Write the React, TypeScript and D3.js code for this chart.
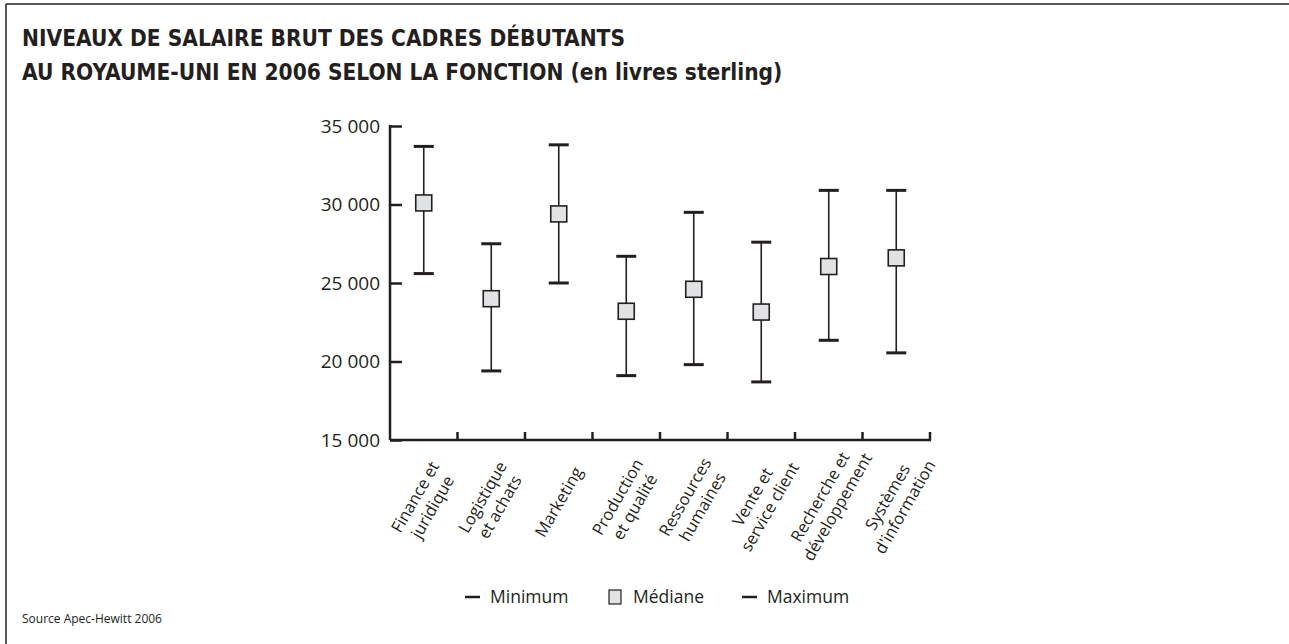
import React, { useEffect, useRef } from "react";
import * as d3 from "d3";

// data
const categories = [
  "Finance et|juridique",
  "Logistique|et achats",
  "Marketing",
  "Production|et qualité",
  "Ressources|humaines",
  "Vente et|service client",
  "Recherche et|développement",
  "Systèmes|d'information",
];
const minimum = [25600, 19400, 25000, 19100, 19800, 18700, 21350, 20550];
const mediane = [30100, 24000, 29400, 23200, 24600, 23150, 26050, 26600];
const maximum = [33700, 27500, 33800, 26700, 29500, 27600, 30900, 30900];
const yTicks = [15000, 20000, 25000, 30000, 35000];
const titleLines = [
  "NIVEAUX DE SALAIRE BRUT DES CADRES DÉBUTANTS",
  "AU ROYAUME-UNI EN 2006 SELON LA FONCTION (en livres sterling)",
];

const FONT = "'Open Sans', 'DejaVu Sans', sans-serif";
const INK = "#231f20";

export default function App() {
  const ref = useRef<SVGSVGElement>(null);

  useEffect(() => {
    const svg = d3.select(ref.current);
    svg.selectAll("*").remove();

    const left = 390, right = 930, top = 126, bottom = 440;

    // frame (top + left rules only)
    svg.append("line").attr("x1", 6).attr("x2", 1289).attr("y1", 4).attr("y2", 4)
      .attr("stroke", INK).attr("stroke-width", 1.5);
    svg.append("line").attr("x1", 6).attr("x2", 6).attr("y1", 4).attr("y2", 644)
      .attr("stroke", INK).attr("stroke-width", 1.5);

    // title
    svg.append("g").selectAll("text").data(titleLines).join("text")
      .attr("x", 22)
      .attr("y", (d, i) => 46 + i * 34)
      .attr("font-family", "'DejaVu Sans Condensed', 'DejaVu Sans', sans-serif")
      .attr("font-weight", "bold")
      .attr("font-size", 22.5)
      .attr("fill", INK)
      .text(d => d);

    const x = d3.scaleBand().domain(categories).range([left, right]);
    const y = d3.scaleLinear().domain([15000, 35000]).range([bottom, top]);

    const fmt = d3.formatLocale({ thousands: " ", grouping: [3], decimal: ",", currency: ["", ""] }).format(",");

    const g = svg.append("g");

    // y axis
    const yAxis = g.append("g")
      .attr("transform", `translate(${left},0)`)
      .call(d3.axisRight(y).tickValues(yTicks).tickSize(12).tickFormat(() => ""));
    yAxis.select(".domain").remove();
    yAxis.selectAll(".tick line").attr("stroke", INK).attr("stroke-width", 2.5);
    g.append("line").attr("x1", left).attr("x2", left).attr("y1", top - 1).attr("y2", bottom)
      .attr("stroke", INK).attr("stroke-width", 2.5);
    g.append("g").selectAll("text").data(yTicks).join("text")
      .attr("x", left - 10)
      .attr("y", d => y(d))
      .attr("dy", "0.35em")
      .attr("text-anchor", "end")
      .attr("font-family", FONT)
      .attr("font-size", 19)
      .attr("fill", INK)
      .text(d => fmt(d));

    // x axis
    g.append("line").attr("x1", left).attr("x2", right + 1).attr("y1", bottom).attr("y2", bottom)
      .attr("stroke", INK).attr("stroke-width", 2.5);
    const bounds = categories.map(c => (x(c) as number) + x.bandwidth());
    g.append("g").selectAll("line").data(bounds).join("line")
      .attr("x1", d => d).attr("x2", d => d)
      .attr("y1", bottom).attr("y2", bottom - 8)
      .attr("stroke", INK).attr("stroke-width", 2.5);

    // category labels, rotated
    g.append("g").selectAll("g").data(categories).join("g")
      .attr("transform", d => `translate(${(x(d) as number) + x.bandwidth() / 2},${bottom + 62}) rotate(-60)`)
      .each(function (d) {
        const lines = d.split("|");
        d3.select(this).selectAll("text").data(lines).join("text")
          .attr("text-anchor", "middle")
          .attr("y", (l, i) => (i - (lines.length - 1) / 2) * 20)
          .attr("dy", "0.35em")
          .attr("font-family", FONT)
          .attr("font-size", 16.5)
          .attr("fill", INK)
          .text(l => l);
      });

    // whiskers
    const rows = categories.map((c, i) => ({ c, min: minimum[i], med: mediane[i], max: maximum[i] }));
    const items = g.append("g").selectAll("g").data(rows).join("g")
      .attr("transform", d => `translate(${(x(d.c) as number) + x.bandwidth() / 2},0)`);
    items.append("line")
      .attr("y1", d => y(d.min)).attr("y2", d => y(d.max))
      .attr("stroke", INK).attr("stroke-width", 1.6);
    items.append("line")
      .attr("x1", -10).attr("x2", 10)
      .attr("y1", d => y(d.min)).attr("y2", d => y(d.min))
      .attr("stroke", INK).attr("stroke-width", 3);
    items.append("line")
      .attr("x1", -10).attr("x2", 10)
      .attr("y1", d => y(d.max)).attr("y2", d => y(d.max))
      .attr("stroke", INK).attr("stroke-width", 3);
    items.append("rect")
      .attr("x", -8).attr("width", 16)
      .attr("y", d => y(d.med) - 8).attr("height", 16)
      .attr("fill", "#e1e2e3").attr("stroke", INK).attr("stroke-width", 1.6);

    // legend
    const leg = svg.append("g").attr("transform", "translate(0,597)");
    const legItems = [
      { label: "Minimum", kind: "dash", x: 465 },
      { label: "Médiane", kind: "box", x: 608 },
      { label: "Maximum", kind: "dash", x: 742 },
    ];
    legItems.forEach(it => {
      if (it.kind === "dash") {
        leg.append("line").attr("x1", it.x).attr("x2", it.x + 15).attr("y1", 0).attr("y2", 0)
          .attr("stroke", INK).attr("stroke-width", 2.5);
      } else {
        leg.append("rect").attr("x", it.x + 1).attr("y", -7).attr("width", 12).attr("height", 14)
          .attr("fill", "#e1e2e3").attr("stroke", INK).attr("stroke-width", 1.2);
      }
      leg.append("text").attr("x", it.x + 25).attr("y", 0).attr("dy", "0.35em")
        .attr("font-family", FONT).attr("font-size", 17.5).attr("fill", INK)
        .text(it.label);
    });

    // source
    svg.append("text").attr("x", 22).attr("y", 623)
      .attr("font-family", FONT).attr("font-size", 12).attr("fill", INK)
      .text("Source Apec-Hewitt 2006");
  }, []);

  return (
    <svg ref={ref} width={1289} height={644}
      style={{ position: "absolute", left: 0, top: 0, background: "#fff" }} />
  );
}
